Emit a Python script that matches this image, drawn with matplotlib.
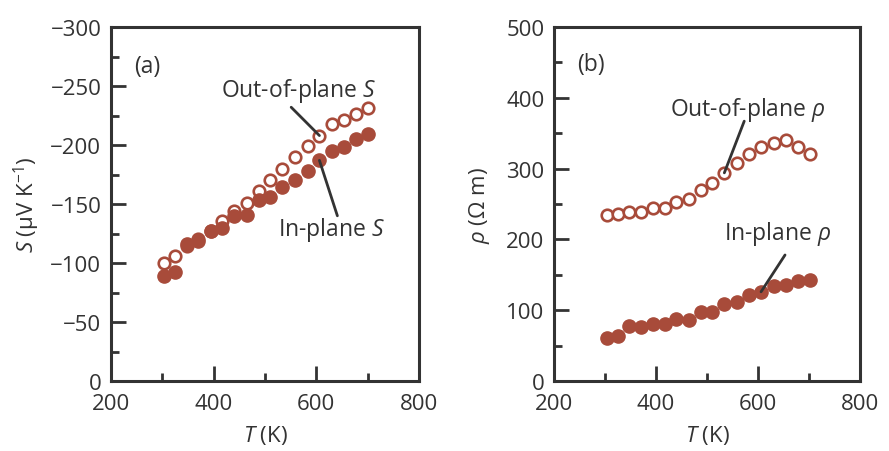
import matplotlib
matplotlib.use('Agg')
import matplotlib.pyplot as plt
from matplotlib.ticker import MultipleLocator

plt.rcParams['font.family'] = ['Open Sans', 'DejaVu Sans']
plt.rcParams['mathtext.fontset'] = 'custom'
plt.rcParams['mathtext.it'] = 'Open Sans:italic'
plt.rcParams['mathtext.rm'] = 'Open Sans'

# temperature (K), same for all series
T = [303, 325, 348, 370, 394, 417, 440, 464, 488, 510, 534, 559, 583, 606, 631, 654, 678, 701]

# Seebeck coefficient (uV/K)
S_out = [-100, -106, -114, -120, -127, -136, -144, -151, -161, -170, -180, -190, -199, -208, -218, -221, -226, -231]
S_in = [-89, -92, -116, -119, -127, -130, -140, -141, -153, -156, -164, -170, -178, -187, -195, -198, -205, -209]

# resistivity (Ohm m)
rho_out = [235, 236, 238, 238, 244, 244, 253, 257, 270, 280, 294, 308, 320, 331, 336, 340, 331, 321]
rho_in = [61, 63, 77, 76, 81, 80, 88, 86, 97, 98, 109, 111, 121, 126, 134, 136, 141, 142]

red = '#A84B3A'
dark = '#333333'
fs = 16
fs_note = 16.5

fig = plt.figure(figsize=(8.89, 4.52), dpi=100)
axa = fig.add_axes([111/889, 70/452, 308/889, 354/452])
axb = fig.add_axes([554/889, 70/452, 306/889, 354/452])

line_kw = dict(arrowstyle='-', color=dark, lw=2.0, shrinkA=0, shrinkB=0)


def style(ax):
    for s in ax.spines.values():
        s.set_linewidth(2.2)
        s.set_color(dark)
    ax.tick_params(which='both', direction='in', top=False, right=False,
                   color=dark, width=2.0, labelsize=fs, labelcolor=dark, pad=7)
    ax.tick_params(axis='x', which='both', pad=9)
    ax.tick_params(which='major', length=10.5)
    ax.tick_params(which='minor', length=6)
    ax.set_xlim(200, 800)
    ax.xaxis.set_major_locator(MultipleLocator(200))
    ax.xaxis.set_minor_locator(MultipleLocator(100))
    ax.set_xlabel(r'$T$ (K)', fontsize=fs, color=dark)
    ax.xaxis.set_label_coords(0.5, -0.118)


# (a) Seebeck
style(axa)
axa.plot(T, S_in, 'o', ms=9.5, color=red, mec=red, zorder=3)
axa.plot(T, S_out, 'o', ms=8.3, mfc='white', mec=red, mew=1.9, zorder=2)
axa.set_ylim(0, -300)
axa.yaxis.set_major_locator(MultipleLocator(50))
axa.yaxis.set_minor_locator(MultipleLocator(25))
axa.set_ylabel(r'$S$ ($\mathrm{\mu}$V K$^{-1}$)', fontsize=fs, color=dark)
axa.yaxis.set_label_coords(-0.225, 0.5)
axa.text(0.075, 0.89, '(a)', transform=axa.transAxes, fontsize=fs_note, color=dark, va='center')
axa.text(565, -247, r'Out-of-plane $S$', fontsize=fs_note, color=dark, ha='center', va='center')
axa.annotate('', xy=(T[13], S_out[13]), xytext=(551, -232), arrowprops=line_kw)
axa.text(629, -129, r'In-plane $S$', fontsize=fs_note, color=dark, ha='center', va='center')
axa.annotate('', xy=(T[13], S_in[13]), xytext=(641, -140), arrowprops=line_kw)

# (b) resistivity
style(axb)
axb.plot(T, rho_in, 'o', ms=9.5, color=red, mec=red, zorder=3)
axb.plot(T, rho_out, 'o', ms=8.3, mfc='white', mec=red, mew=1.9, zorder=2)
axb.set_ylim(0, 500)
axb.yaxis.set_major_locator(MultipleLocator(100))
axb.yaxis.set_minor_locator(MultipleLocator(50))
axb.set_ylabel(r'$\rho$ ($\Omega$ m)', fontsize=fs, color=dark)
axb.yaxis.set_label_coords(-0.203, 0.5)
axb.text(0.075, 0.895, '(b)', transform=axb.transAxes, fontsize=fs_note, color=dark, va='center')
axb.text(580, 384, r'Out-of-plane $\rho$', fontsize=fs_note, color=dark, ha='center', va='center')
axb.annotate('', xy=(T[10], rho_out[10]), xytext=(573, 367), arrowprops=line_kw)
axb.text(639, 209, r'In-plane $\rho$', fontsize=fs_note, color=dark, ha='center', va='center')
axb.annotate('', xy=(T[13], rho_in[13]), xytext=(653, 178), arrowprops=line_kw)

fig.savefig('out.png', dpi=100)
